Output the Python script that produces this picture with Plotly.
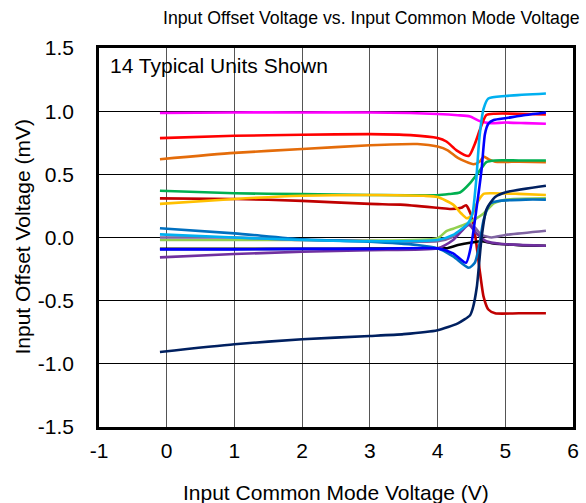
import plotly.graph_objects as go

# ---- data ----
magenta_x = [-0.1, 1, 2, 3, 3.6, 4.0, 4.3, 4.48, 4.63, 4.78, 5.0, 5.3, 5.6]
magenta_y = [0.985, 0.99, 0.99, 0.99, 0.985, 0.978, 0.968, 0.958, 0.92, 0.905, 0.91, 0.905, 0.90]

red_x = [-0.1, 1, 2, 3, 3.6, 4.0, 4.13, 4.28, 4.46, 4.55, 4.63, 4.72, 4.85, 5.2, 5.6]
red_y = [0.787, 0.805, 0.813, 0.818, 0.81, 0.787, 0.76, 0.69, 0.645, 0.74, 0.86, 0.97, 0.98, 0.98, 0.975]

orange_x = [-0.1, 1, 2, 3, 3.7, 4.0, 4.15, 4.3, 4.53, 4.62, 4.68, 4.75, 4.85, 5.2, 5.6]
orange_y = [0.62, 0.67, 0.70, 0.73, 0.74, 0.72, 0.69, 0.63, 0.58, 0.60, 0.64, 0.62, 0.60, 0.60, 0.597]

green_x = [-0.1, 1, 2, 3, 4.0, 4.18, 4.33, 4.48, 4.63, 4.72, 4.85, 5.2, 5.6]
green_y = [0.37, 0.35, 0.343, 0.337, 0.335, 0.345, 0.356, 0.43, 0.535, 0.597, 0.61, 0.61, 0.61]

darkred_x = [-0.1, 1, 2, 3, 3.45, 4.0, 4.2, 4.35, 4.42, 4.5, 4.56, 4.62, 4.68, 4.75, 4.85, 5.2, 5.6]
darkred_y = [0.31, 0.305, 0.29, 0.266, 0.26, 0.235, 0.225, 0.235, 0.255, 0.17, 0.0, -0.25, -0.47, -0.57, -0.60, -0.60, -0.60]

yellow_x = [-0.1, 1, 2, 3, 3.8, 4.0, 4.23, 4.35, 4.43, 4.5, 4.58, 4.68, 4.8, 5.2, 5.6]
yellow_y = [0.266, 0.305, 0.33, 0.337, 0.33, 0.32, 0.26, 0.19, 0.152, 0.17, 0.27, 0.345, 0.35, 0.345, 0.337]

steel_x = [-0.1, 1, 2, 3, 3.7, 4.0, 4.23, 4.46, 4.55, 4.62, 4.68, 4.78, 4.92, 5.3, 5.6]
steel_y = [0.073, 0.033, -0.014, -0.033, -0.06, -0.086, -0.15, -0.24, -0.20, -0.05, 0.14, 0.27, 0.29, 0.30, 0.30]

sky_x = [-0.1, 1, 2, 3, 4.0, 4.23, 4.43, 4.48, 4.52, 4.57, 4.62, 4.68, 4.75, 5.0, 5.6]
sky_y = [0.025, 0.0, -0.02, -0.03, -0.02, 0.02, 0.1, 0.14, 0.2, 0.45, 0.8, 1.02, 1.1, 1.12, 1.14]

lavender_x = [-0.1, 1, 2, 3, 4.0, 4.2, 4.35, 4.46, 4.55, 4.65, 4.8, 5.0, 5.6]
lavender_y = [0.0, 0.0, -0.02, -0.028, -0.03, 0.0, 0.06, 0.11, 0.08, 0.02, 0.0, 0.02, 0.054]

lime_x = [-0.1, 1, 2, 3, 4.0, 4.13, 4.23, 4.43, 4.68, 4.83, 5.02, 5.6]
lime_y = [-0.02, -0.02, -0.02, -0.024, -0.005, 0.05, 0.07, 0.11, 0.19, 0.27, 0.30, 0.31]

blue_x = [-0.1, 1, 2, 3, 4.0, 4.23, 4.42, 4.5, 4.58, 4.65, 4.70, 4.75, 4.83, 5.02, 5.3, 5.6]
blue_y = [-0.094, -0.094, -0.09, -0.09, -0.086, -0.125, -0.2, -0.05, 0.25, 0.54, 0.82, 0.9, 0.93, 0.946, 0.97, 0.99]

black_x = [-0.1, 1, 2, 3, 4.0, 4.13, 4.3, 4.5, 4.65, 4.8, 5.2, 5.6]
black_y = [-0.09, -0.09, -0.09, -0.088, -0.086, -0.085, -0.06, -0.04, -0.03, -0.045, -0.06, -0.065]

violet_x = [-0.1, 1, 2, 3, 4.0, 4.23, 4.46, 4.58, 4.72, 4.92, 5.6]
violet_y = [-0.157, -0.131, -0.113, -0.10, -0.086, -0.02, 0.1, 0.03, -0.03, -0.05, -0.065]

navy_x = [-0.1, 1, 2, 3, 3.5, 4.0, 4.3, 4.48, 4.52, 4.58, 4.65, 4.72, 4.85, 5.02, 5.6]
navy_y = [-0.906, -0.845, -0.805, -0.78, -0.765, -0.734, -0.68, -0.615, -0.56, -0.39, 0.0, 0.22, 0.32, 0.36, 0.41]

units = [
    (magenta_x, magenta_y, "#FF00FF"),
    (red_x, red_y, "#FF0000"),
    (orange_x, orange_y, "#E46C0A"),
    (green_x, green_y, "#00B050"),
    (darkred_x, darkred_y, "#C00000"),
    (yellow_x, yellow_y, "#FFC000"),
    (lime_x, lime_y, "#92D050"),
    (lavender_x, lavender_y, "#8064A2"),
    (black_x, black_y, "#000000"),
    (violet_x, violet_y, "#7030A0"),
    (steel_x, steel_y, "#0070C0"),
    (sky_x, sky_y, "#00B0F0"),
    (blue_x, blue_y, "#0000FF"),
    (navy_x, navy_y, "#002060"),
]

x_ticks = [-1, 0, 1, 2, 3, 4, 5, 6]
y_ticks = [-1.5, -1.0, -0.5, 0.0, 0.5, 1.0, 1.5]

FONT = "Liberation Sans, Arial, sans-serif"

fig = go.Figure()
for xs, ys, col in units:
    fig.add_trace(go.Scatter(x=xs, y=ys, mode="lines",
                             line=dict(color=col, width=2.6, shape="spline", smoothing=0.6),
                             showlegend=False, hoverinfo="skip"))

fig.update_layout(
    width=586, height=503,
    margin=dict(l=99, r=13, t=48, b=76, autoexpand=False),
    paper_bgcolor="white", plot_bgcolor="white",
    font=dict(family=FONT, size=21, color="black"),
    annotations=[
        dict(text="Input Offset Voltage vs. Input Common Mode Voltage",
             xref="paper", yref="paper", x=1.019, y=1.0, yshift=30,
             xanchor="right", yanchor="middle", showarrow=False,
             font=dict(family=FONT, size=17.7, color="black")),
        dict(text="14 Typical Units Shown", xref="paper", yref="paper",
             x=0.0, y=1.0, xshift=9, yshift=-4, xanchor="left", yanchor="top",
             showarrow=False, font=dict(family=FONT, size=21, color="black")),
        dict(text="Input Common Mode Voltage (V)", xref="paper", yref="paper",
             x=0.5, y=0.0, yshift=-65, xanchor="center", yanchor="middle",
             showarrow=False, font=dict(family=FONT, size=21, color="black")),
        dict(text="Input Offset Voltage (mV)", xref="paper", yref="paper",
             x=0.0, y=0.5, xshift=-77, xanchor="center", yanchor="middle",
             textangle=-90, showarrow=False,
             font=dict(family=FONT, size=21, color="black")),
    ],
)
fig.update_xaxes(range=[-1, 6], tickmode="array", tickvals=x_ticks,
                 ticktext=[str(v) for v in x_ticks], automargin=False,
                 showgrid=True, gridcolor="#555555", gridwidth=1.2,
                 showline=True, linecolor="black", linewidth=2.5, mirror=True,
                 zeroline=False, ticks="", ticklabelstandoff=3)
fig.update_yaxes(range=[-1.5, 1.5], tickmode="array", tickvals=y_ticks,
                 ticktext=[f"{v:.1f}" for v in y_ticks], automargin=False,
                 showgrid=True, gridcolor="black", gridwidth=1,
                 showline=True, linecolor="black", linewidth=2.5, mirror=True,
                 zeroline=False, ticks="", ticklabelstandoff=18)

fig.write_html("out.html", config={"displayModeBar": False},
               post_script="document.body.style.margin='0';document.body.style.overflow='hidden';")
